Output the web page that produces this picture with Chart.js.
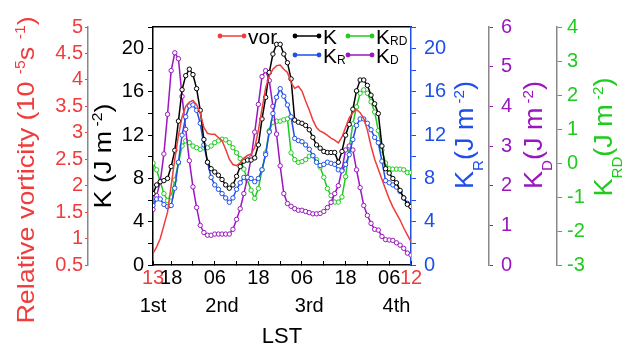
<!DOCTYPE html>
<html>
<head>
<meta charset="utf-8">
<script src="https://cdn.jsdelivr.net/npm/chart.js@4.4.1/dist/chart.umd.min.js"></script>
<style>
html, body { margin: 0; padding: 0; background: #fff; }
#wrap { width: 632px; height: 349px; }
</style>
</head>
<body>
<div id="wrap"><canvas id="kChart" width="632" height="349"></canvas></div>
<script>
// hourly values, 13 LST on the 1st to 12 LST on the 4th
const vor = [0.72, 0.84, 1.0, 1.25, 1.5, 2.0, 2.5, 2.95, 3.3, 3.5,
    3.58, 3.61, 3.53, 3.37, 3.1, 2.99, 2.97, 2.97, 2.91, 2.85,
    2.69, 2.5, 2.4, 2.38, 2.43, 2.52, 2.57, 2.6, 2.72, 3.05,
    3.45, 3.85, 4.08, 4.2, 4.27, 4.28, 4.2, 4.14, 3.95, 3.84,
    3.88, 3.79, 3.6, 3.43, 3.24, 3.1, 3.03, 3.0, 2.95, 2.9,
    2.86, 2.81, 2.92, 3.1, 3.28, 3.38, 3.44, 3.38, 3.27, 3.05,
    2.75, 2.5, 2.31, 2.12, 1.93, 1.75, 1.6, 1.47, 1.35, 1.2,
    1.07, 0.94];

const kTotal = [6.6, 7.4, 7.7, 7.8, 8.0, 9.1, 10.6, 13.3, 16.2, 17.5,
    18.1, 17.6, 16.3, 14.3, 11.6, 9.5, 8.9, 8.6, 8.3, 7.9,
    7.4, 7.1, 7.4, 8.2, 9.1, 9.6, 9.7, 9.7, 9.9, 11.1,
    13.5, 15.5, 17.8, 19.5, 20.4, 20.4, 19.5, 18.7, 17.2, 13.4,
    13.2, 13.1, 12.9, 12.5, 11.8, 11.1, 10.8, 10.5, 10.4, 10.4,
    10.4, 9.5, 10.5, 12.0, 13.0, 14.4, 16.1, 17.1, 17.1, 16.6,
    15.7, 14.9, 14.0, 11.0, 8.9, 8.5, 8.0, 7.6, 6.9, 6.2,
    5.6, 5.4];

const kR = [5.5, 6.1, 6.1, 5.6, 5.4, 5.5, 7.1, 9.5, 12.0, 13.7,
    14.7, 14.8, 14.3, 13.1, 11.1, 9.5, 8.1, 7.4, 7.0, 6.6,
    6.2, 5.8, 6.2, 7.0, 7.6, 8.1, 8.1, 8.0, 7.7, 8.0,
    8.8, 10.2, 12.3, 14.0, 15.5, 16.3, 15.6, 14.8, 13.7, 11.7,
    11.5, 11.4, 11.1, 10.7, 10.1, 9.5, 9.2, 9.3, 9.5, 9.4,
    9.3, 8.8, 8.7, 9.3, 10.2, 11.6, 12.9, 13.5, 13.5, 13.1,
    12.5, 11.8, 11.3, 9.6, 7.8, 7.6, 7.4, 7.2, 6.8, 6.2,
    5.7, 5.4];

const kD = [1.4, 1.75, 2.1, 2.8, 3.8, 4.9, 5.35, 5.2, 4.25, 3.42,
    2.63, 1.97, 1.45, 1.0, 0.82, 0.75, 0.75, 0.78, 0.78, 0.78,
    0.78, 0.78, 0.9, 1.15, 1.42, 1.8, 2.2, 2.7, 3.35, 4.05,
    4.75, 4.9, 4.65, 4.0, 3.3, 2.5, 1.8, 1.55, 1.48, 1.42,
    1.38, 1.38, 1.35, 1.32, 1.29, 1.29, 1.3, 1.35, 1.45, 1.58,
    1.8, 2.0, 2.4, 2.9, 3.0, 2.9, 2.4, 1.95, 1.5, 1.25,
    1.05, 0.9, 0.88, 0.72, 0.64, 0.63, 0.62, 0.56, 0.5, 0.42,
    0.3, 0.25];

const kRD = [0.0, -0.2, -0.55, -0.9, -1.1, -1.0, -0.5, 0.0, 0.5, 0.65,
    0.6, 0.5, 0.45, 0.4, 0.45, 0.45, 0.5, 0.6, 0.65, 0.7,
    0.68, 0.6, 0.45, 0.3, 0.13, -0.18, -0.5, -0.8, -1.04, -0.75,
    -0.2, 0.3, 0.95, 1.2, 1.23, 1.23, 1.27, 1.3, 0.3, 0.1,
    0.02, 0.04, 0.1, 0.2, 0.22, 0.1, -0.12, -0.42, -0.75, -0.96,
    -1.15, -1.15, -1.0, -0.4, 0.45, 1.15, 1.65, 2.05, 2.15, 2.05,
    1.8, 1.5, 0.95, 0.38, 0.0, -0.17, -0.18, -0.18, -0.18, -0.2,
    -0.28, -0.28];

const hourTicks = [0, 5, 11, 17, 23, 29, 35, 41, 47, 53, 59, 65, 71];
const hourTickLabels = ["13", "18", "", "06", "", "18", "", "06", "", "18", "", "06", "12"];
const dayTicks = [0, 19, 43, 67];
const dayLabels = ["1st", "2nd", "3rd", "4th"];

const RED = "#f03c3c";
const BLUE = "#1f4fe8";
const GREEN = "#1ecb1e";
const PURPLE = "#9b16c0";
const GREY = "#888888";
const FONT = '"Liberation Sans", Arial, sans-serif';

const toXY = arr => arr.map((y, i) => ({ x: i, y }));

function fontFor(part, size, small) {
    return (part[1] ? Math.round(size * small) : size) + "px " + FONT;
}

function richWidth(ctx, parts, size, small) {
    let w = 0;
    parts.forEach(p => {
        ctx.font = fontFor(p, size, small);
        w += ctx.measureText(p[0]).width;
    });
    return w;
}

function drawRich(ctx, parts, x, y, size, opt) {
    let cx = opt.center ? x - richWidth(ctx, parts, size, opt.small) / 2 : x;
    parts.forEach(p => {
        ctx.font = fontFor(p, size, opt.small);
        let dy = 0;
        if (p[1] === "sup") dy = -size * opt.supDy;
        if (p[1] === "sub") dy = size * opt.subDy;
        ctx.fillText(p[0], cx, y + dy);
        cx += ctx.measureText(p[0]).width;
    });
}

const unitParts = [["(J m", ""], [" -2", "sup"], [")", ""]];

const axisTitles = [
    { axis: "yVor", color: RED, size: 24, base: 34, cy: 170, stretch: 1.12,
      parts: [["Relative vorticity (10 ", ""], ["-5", "sup"], ["s ", ""], ["-1", "sup"], [")", ""]] },
    { axis: "yK", color: "#000", size: 24, base: 23, cy: 156, stretch: 1.12,
      parts: [["K ", ""]].concat(unitParts) },
    { axis: "yKR", color: BLUE, size: 25, base: 62, cy: 135, stretch: 1.08,
      parts: [["K", ""], ["R", "sub"]].concat(unitParts) },
    { axis: "yKD", color: PURPLE, size: 25, base: 53, cy: 135, stretch: 1.08,
      parts: [["K", ""], ["D", "sub"]].concat(unitParts) },
    { axis: "yKRD", color: GREEN, size: 25, base: 55, cy: 137, stretch: 1.08,
      parts: [["K", ""], ["RD", "sub"]].concat(unitParts) }
];

const legendItems = [
    { ds: 0, dx: 67, dy: 9, parts: [["vor", ""]] },
    { ds: 1, dx: 142, dy: 9, parts: [["K", ""]] },
    { ds: 4, dx: 195, dy: 9, parts: [["K", ""], ["RD", "sub"]] },
    { ds: 2, dx: 142, dy: 28, parts: [["K", ""], ["R", "sub"]] },
    { ds: 3, dx: 195, dy: 28, parts: [["K", ""], ["D", "sub"]] }
];

const richTextPlugin = {
    id: "richText",
    afterDraw(chart) {
        const ctx = chart.ctx;
        const area = chart.chartArea;

        ctx.save();
        ctx.textBaseline = "alphabetic";
        ctx.textAlign = "left";

        axisTitles.forEach(t => {
            const sc = chart.scales[t.axis];
            ctx.save();
            ctx.fillStyle = t.color;
            ctx.translate(sc.left + t.base, t.cy);
            ctx.rotate(-Math.PI / 2);
            ctx.scale(t.stretch, 1);
            drawRich(ctx, t.parts, 0, 0, t.size, { center: true, small: 0.58, supDy: 0.38, subDy: 0.4 });
            ctx.restore();
        });

        legendItems.forEach(item => {
            const ds = chart.data.datasets[item.ds];
            const x0 = area.left + item.dx;
            const y0 = area.top + item.dy;
            ctx.strokeStyle = ds.borderColor;
            ctx.fillStyle = ds.borderColor;
            ctx.lineWidth = 1.5;
            ctx.beginPath();
            ctx.moveTo(x0, y0);
            ctx.lineTo(x0 + 24, y0);
            ctx.stroke();
            [x0, x0 + 24].forEach(px => {
                ctx.beginPath();
                ctx.arc(px, y0, 2.4, 0, Math.PI * 2);
                ctx.fill();
            });
            ctx.fillStyle = "#000";
            drawRich(ctx, item.parts, x0 + 28, y0 + 8, 21, { center: false, small: 0.55, supDy: 0.5, subDy: 0.05 });
        });

        ctx.restore();
    }
};

function lineSet(label, data, color, axis, markers) {
    return {
        label,
        data: toXY(data),
        yAxisID: axis,
        borderColor: color,
        backgroundColor: color,
        borderWidth: 1.5,
        pointRadius: markers ? 2.2 : 0,
        pointBorderWidth: 1,
        pointBorderColor: color,
        pointBackgroundColor: "#fff",
        tension: 0,
        fill: false
    };
}

function yAxis(pos, weight, min, max, step, color, borderColor, width, tickLen, pad, labelEvery) {
    return {
        type: "linear",
        position: pos,
        weight,
        min,
        max,
        afterFit: scale => { scale.width = width; },
        grid: { drawOnChartArea: false, drawTicks: true, tickLength: tickLen, color: color, lineWidth: 1 },
        border: { display: true, color: borderColor, width: 1.5 },
        ticks: {
            autoSkip: false,
            stepSize: step,
            padding: pad,
            color: color,
            font: { size: 20, family: FONT },
            callback: v => (labelEvery && Math.round(v) % labelEvery !== 0) ? "" : String(+v.toFixed(1))
        }
    };
}

new Chart(document.getElementById("kChart").getContext("2d"), {
    type: "line",
    data: {
        datasets: [
            lineSet("vor", vor, RED, "yVor", false),
            lineSet("K", kTotal, "#000", "yK", true),
            lineSet("KR", kR, BLUE, "yKR", true),
            lineSet("KD", kD, PURPLE, "yKD", true),
            lineSet("KRD", kRD, GREEN, "yKRD", true)
        ]
    },
    options: {
        responsive: false,
        animation: false,
        devicePixelRatio: 1,
        layout: { padding: { top: 27, left: 0, right: 0, bottom: 0 } },
        plugins: { legend: { display: false }, tooltip: { enabled: false } },
        scales: {
            x: {
                type: "linear",
                position: "bottom",
                weight: 0,
                min: 0,
                max: 71,
                afterBuildTicks: scale => { scale.ticks = hourTicks.map(v => ({ value: v })); },
                afterFit: scale => { scale.height = 28; },
                grid: { drawOnChartArea: false, drawTicks: true, tickLength: -4, color: "#000" },
                border: { display: true, color: "#000", width: 1.5 },
                ticks: {
                    autoSkip: false,
                    maxRotation: 0,
                    padding: 5,
                    font: { size: 20, family: FONT },
                    color: c => (c.index === 0 || c.index === hourTicks.length - 1) ? RED : "#000",
                    callback: (v, i) => hourTickLabels[i]
                }
            },
            xDay: {
                type: "linear",
                position: "bottom",
                weight: 1,
                min: 0,
                max: 71,
                afterBuildTicks: scale => { scale.ticks = dayTicks.map(v => ({ value: v })); },
                afterFit: scale => { scale.height = 56; },
                grid: { display: false, drawTicks: false },
                border: { display: false },
                ticks: {
                    autoSkip: false,
                    maxRotation: 0,
                    padding: 1,
                    color: "#000",
                    font: { size: 20, family: FONT },
                    callback: (v, i) => dayLabels[i]
                },
                title: {
                    display: true,
                    text: "LST",
                    color: "#000",
                    font: { size: 22, family: FONT },
                    padding: { top: 2, bottom: -1 }
                }
            },
            xTop: {
                type: "linear",
                position: "top",
                min: 0,
                max: 71,
                afterFit: scale => { scale.height = 0; },
                grid: { display: false },
                ticks: { display: false },
                border: { display: true, color: "#000", width: 1.5 }
            },
            yVor: yAxis("left", 1, 0.5, 5, 0.5, RED, GREY, 88, 3, 2, 0),
            yK: yAxis("left", 0, 0, 22, 2, "#000", "#000", 65, 5, 4, 4),
            yKR: yAxis("right", 0, 0, 22, 2, BLUE, BLUE, 78, 5, 8, 4),
            yKD: yAxis("right", 1, 0, 6, 1, PURPLE, GREY, 68, 4, 8, 0),
            yKRD: yAxis("right", 2, -3, 4, 1, GREEN, GREY, 75, 5, 5, 0)
        }
    },
    plugins: [richTextPlugin]
});
</script>
</body>
</html>
